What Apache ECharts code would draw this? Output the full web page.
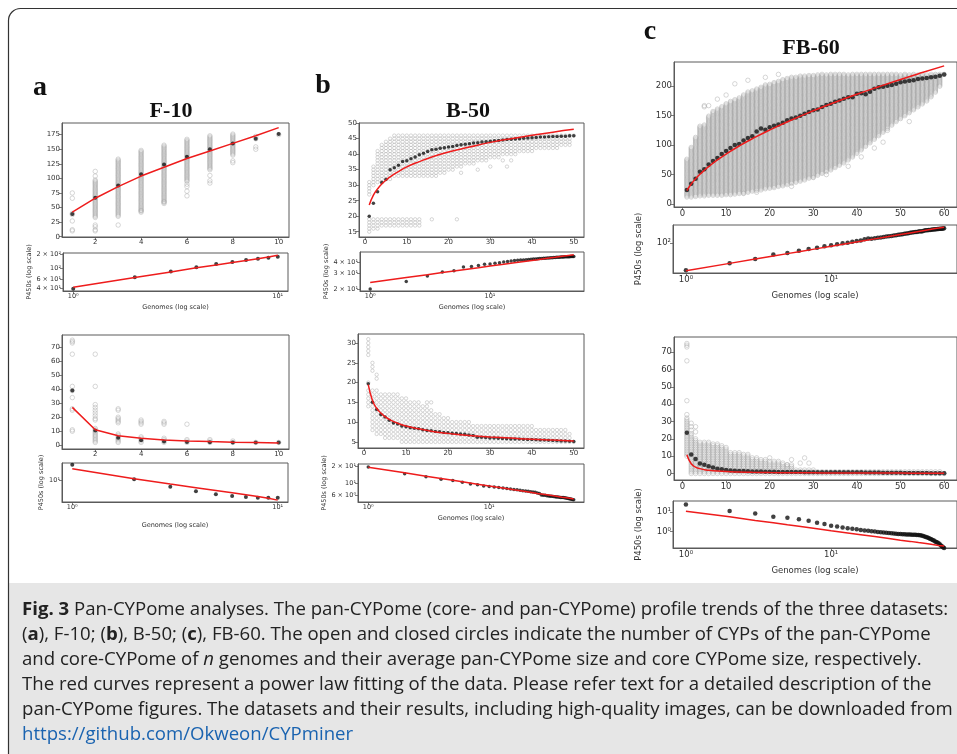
<!DOCTYPE html>
<html>
<head>
<meta charset="utf-8">
<script src="https://cdn.jsdelivr.net/npm/echarts@6.0.0/dist/echarts.min.js"></script>
<style>
  html, body { margin: 0; padding: 0; background: #fff; }
  #chart { width: 957px; height: 754px; }
</style>
</head>
<body>
<div id="chart"></div>
<script>
// ---------- data ----------
// F-10 (10 genomes)
const F10_N = [1, 2, 3, 4, 5, 6, 7, 8, 9, 10];
const F10_PAN_MEAN = [39, 67, 88, 107, 124, 137, 150, 160, 168, 176];
const F10_PAN_FIT = [42, 66, 86, 104, 119, 134, 147, 160, 173, 187];
const F10_CORE_MEAN = [39, 10.5, 5.3, 3.6, 2.7, 2.3, 2.1, 2.0, 2.0, 2.0];
const F10_CORE_FIT = [27, 11, 6.8, 4.9, 3.8, 3.1, 2.6, 2.2, 1.9, 1.6];
// open circles: [n, low, high] columns + single points [n, value]
const F10_PAN_COLS = [[2, 33, 98], [3, 35, 133], [4, 42, 148], [5, 57, 158], [6, 95, 167], [7, 115, 173], [8, 140, 177]];
const F10_PAN_PTS = [[1, 75], [1, 66], [1, 40], [1, 38], [1, 27], [1, 12], [1, 10], [2, 112], [2, 104], [2, 20], [2, 17],
  [2, 12], [2, 10], [3, 20], [4, 45], [5, 60], [6, 70], [6, 78], [6, 86], [6, 90], [7, 92], [7, 96], [7, 105],
  [8, 127], [8, 130], [9, 150], [9, 154], [9, 168], [9, 172], [10, 175]];
const F10_CORE_COLS = [[2, 2, 12], [3, 2, 8], [4, 2, 6], [5, 2, 5], [6, 2, 4], [7, 2, 4], [8, 2, 3]];
const F10_CORE_PTS = [[1, 75], [1, 74], [1, 73], [1, 65], [1, 42], [1, 39], [1, 34], [1, 26], [1, 25], [1, 11], [1, 10],
  [2, 65], [2, 42], [2, 29], [2, 27], [2, 25], [2, 23], [2, 21], [2, 19], [2, 18], [3, 26], [3, 25], [3, 20], [3, 19],
  [3, 18], [3, 17], [3, 16], [4, 18], [4, 17], [4, 16], [4, 15], [5, 17], [5, 16], [5, 15], [6, 15], [9, 2], [10, 2]];

// B-50 (50 genomes)
const B50_N = Array.from({ length: 50 }, (_, i) => i + 1);
const B50_PAN_MEAN = [20, 24.2, 27.9, 30.9, 31.8, 35.0, 35.6, 36.4, 37.6, 37.9, 38.5, 39.1, 39.8, 40.3, 40.9, 41.4, 41.6,
  41.9, 42.1, 42.3, 42.5, 42.8, 43.0, 43.2, 43.4, 43.6, 43.7, 43.9, 44.0, 44.2, 44.3, 44.4, 44.6, 44.7, 44.8, 44.9, 45.0,
  45.1, 45.2, 45.3, 45.4, 45.5, 45.5, 45.6, 45.7, 45.7, 45.8, 45.8, 45.9, 45.9];
const B50_CORE_MEAN = [19.7, 15.0, 13.2, 11.9, 11.3, 10.5, 9.8, 9.5, 9.0, 8.8, 8.6, 8.45, 8.3, 8.1, 7.9, 7.8, 7.65, 7.55,
  7.4, 7.3, 7.2, 7.1, 7.0, 6.9, 6.75, 6.6, 6.2, 6.15, 6.1, 6.0, 5.95, 5.9, 5.85, 5.8, 5.75, 5.7, 5.7, 5.65, 5.6, 5.6,
  5.55, 5.5, 5.45, 5.4, 5.35, 5.3, 5.25, 5.2, 5.15, 5.1];
const B50_FIT_N = [1, 2, 3, 4, 5, 6, 8, 10, 13, 16, 20, 25, 30, 35, 40, 45, 50];
const B50_PAN_FIT = [23.6, 26.8, 28.8, 30.4, 31.6, 32.7, 34.4, 35.9, 37.6, 39.1, 40.7, 42.3, 43.8, 45.0, 46.1, 47.1, 48.0];
const B50_CORE_FIT = [19.5, 15.5, 13.5, 12.3, 11.4, 10.7, 9.7, 9.0, 8.3, 7.7, 7.15, 6.6, 6.25, 5.95, 5.65, 5.45, 5.25];
const B50_PAN_COLS = [[1, 27, 31], [2, 30, 36], [3, 31, 41], [4, 31, 43], [5, 32, 44], [6, 32, 45], [7, 33, 46], [8, 33, 46],
  [9, 33, 46], [10, 33, 46], [11, 33, 46], [12, 33, 46], [13, 33, 46], [14, 33, 46], [15, 33, 46], [16, 33, 46],
  [17, 33, 46], [18, 34, 46], [19, 34, 46], [20, 35, 46], [21, 35, 46], [22, 36, 46], [23, 36, 46], [24, 37, 46],
  [25, 37, 46], [26, 37, 46], [27, 38, 46], [28, 38, 46], [29, 38, 46], [30, 39, 46], [31, 39, 46], [32, 39, 46],
  [33, 40, 46], [34, 40, 46], [35, 40, 46], [36, 40, 46], [37, 41, 46], [38, 41, 46], [39, 41, 46], [40, 41, 46],
  [41, 42, 46], [42, 42, 46], [43, 42, 46], [44, 42, 46], [45, 42, 46], [46, 42, 46], [47, 43, 46], [48, 43, 46],
  [49, 43, 46], [50, 46, 46],
  [1, 15, 19], [2, 16, 19], [3, 16, 19], [4, 17, 19], [5, 17, 19], [6, 17, 19], [7, 17, 19], [8, 17, 19], [9, 17, 19],
  [10, 17, 19], [11, 17, 19], [12, 17, 19], [13, 17, 19]];
const B50_PAN_PTS = [[16, 19], [22, 19], [23, 34], [27, 35], [30, 36], [33, 38], [34, 36], [35, 38]];
const B50_CORE_COLS = [[1, 14, 18], [1, 27, 31], [2, 8, 18], [3, 7, 18], [4, 7, 17], [5, 6, 17], [6, 6, 17], [7, 6, 17],
  [8, 6, 17], [9, 5, 16], [10, 5, 16], [11, 5, 15], [12, 5, 15], [13, 5, 15], [14, 5, 14], [15, 5, 14], [16, 5, 13],
  [17, 5, 12], [18, 5, 12], [19, 5, 11], [20, 5, 11], [21, 5, 10], [22, 5, 10], [23, 5, 10], [24, 5, 10], [25, 5, 10],
  [26, 5, 9], [27, 5, 9], [28, 5, 9], [29, 5, 9], [30, 5, 9], [31, 5, 9], [32, 5, 9], [33, 5, 9], [34, 5, 9], [35, 5, 9],
  [36, 5, 9], [37, 5, 9], [38, 5, 9], [39, 5, 9], [40, 5, 9], [41, 5, 8], [42, 5, 8], [43, 5, 8], [44, 5, 8], [45, 5, 8],
  [46, 5, 8], [47, 5, 8], [48, 5, 8], [49, 5, 7], [50, 5, 5]];
const B50_CORE_PTS = [[1, 20], [2, 23], [2, 24], [2, 25], [3, 21], [3, 22], [15, 15], [16, 15]];

// FB-60 (60 genomes)
const C60_N = Array.from({ length: 60 }, (_, i) => i + 1);
const C60_PAN_MEAN = [23.7, 34.5, 43, 55, 59, 67, 73, 78, 85, 90, 95, 100, 102, 108, 112, 115, 123, 128, 126, 130.5,
  133, 135, 138, 142, 145, 147, 150, 153, 156, 159, 160.5, 164.5, 168, 170, 173.5, 175.7, 178.5, 181, 181, 187,
  188, 186.4, 190.4, 195.5, 198, 199, 200.5, 202, 204, 206.8, 208, 209, 210, 212, 213, 214, 215, 216, 217.5, 219.8];
const C60_CORE_MEAN = [23.5, 11, 8.3, 5.7, 5.0, 4.2, 3.5, 2.8, 2.4, 2.0, 1.8, 1.6, 1.5, 1.4, 1.3, 1.2, 1.15, 1.1, 1.05, 1.0,
  0.95, 0.92, 0.9, 0.87, 0.85, 0.82, 0.8, 0.78, 0.76, 0.75, 0.74, 0.73, 0.72, 0.72, 0.71, 0.7, 0.7, 0.69, 0.68, 0.67,
  0.65, 0.63, 0.6, 0.57, 0.54, 0.5, 0.47, 0.44, 0.41, 0.38, 0.35, 0.32, 0.3, 0.28, 0.26, 0.23, 0.2, 0.18, 0.16, 0.15];
const C60_FIT_N = [1, 2, 3, 4, 5, 6, 8, 10, 13, 16, 20, 25, 30, 35, 40, 45, 50, 55, 60];
const C60_PAN_FIT = [23, 34.1, 42.9, 50.5, 57.3, 63.5, 74.8, 84.9, 98.5, 110.8, 125.7, 142.7, 158.2, 172.7, 186.3, 199.1,
  211.4, 223.1, 234.4];
const C60_CORE_FIT = [10.8, 5.6, 3.7, 2.8, 2.2, 1.86, 1.4, 1.1, 0.86, 0.7, 0.56, 0.45, 0.37, 0.32, 0.28, 0.25, 0.22, 0.2, 0.185];
const C60_PAN_LOW = [12, 12, 13, 14, 14, 15, 15, 15, 15, 16, 16, 17, 18, 19, 20, 22, 23, 24, 26, 27, 28, 30, 31, 33, 35,
  37, 39, 41, 44, 46, 49, 52, 55, 58, 62, 66, 70, 75, 80, 86, 92, 98, 104, 110, 116, 122, 128, 134, 140, 145, 150, 155,
  160, 165, 170, 175, 182, 190, 200, 220];
const C60_PAN_HIGH = [77, 97, 113, 133, 135, 150, 158, 161, 166, 170, 174, 178, 181, 186, 190, 193, 196, 199, 202, 204,
  207, 209, 211, 213, 215, 216, 217, 218, 218, 219, 220, 220, 220, 220, 220, 220, 220, 220, 220, 220, 220, 220, 220, 220,
  220, 220, 220, 220, 220, 220, 220, 220, 220, 220, 220, 220, 220, 220, 220, 220];
const C60_PAN_PTS = [[5, 165], [5, 167], [6, 167], [8, 178], [10, 185], [12, 204], [15, 210], [19, 215], [22, 220],
  [14, 18], [17, 20], [25, 30], [30, 45], [33, 50], [38, 64], [41, 80], [44, 95], [46, 105], [47, 125], [52, 140]];
const C60_CORE_LOW = [10, 0, 0, 0, 0, 0, 0, 0, 0, 0, 0, 0, 0, 0, 0, 0, 0, 0, 0, 0, 0, 0, 0, 0, 0, 0, 0, 0, 0, 0,
  0, 0, 0, 0, 0, 0, 0, 0, 0, 0, 0, 0, 0, 0, 0, 0, 0, 0, 0, 0, 0, 0, 0, 0, 0, 0, 0, 0, 0, 0];
const C60_CORE_HIGH = [32, 23, 20, 18, 18, 18, 17, 17, 16, 15, 12, 12, 12, 11, 11, 9, 9, 8, 8, 7, 6, 6, 5, 5, 5,
  2, 2, 2, 2, 2, 1, 1, 1, 1, 1, 1, 1, 1, 1, 1, 1, 1, 1, 1, 1, 1, 1, 1, 1, 1, 1, 1, 1, 1, 1, 1, 1, 1, 1, 0];
const C60_CORE_PTS = [[1, 75], [1, 74], [1, 73], [1, 65], [1, 42], [1, 34], [2, 25], [2, 27], [2, 29], [3, 24], [3, 27],
  [20, 9], [21, 7], [22, 7], [23, 6], [24, 5], [25, 8], [27, 6], [28, 9], [29, 6]];

// tick values and labels
const A_XTICKS = [2, 4, 6, 8, 10];
const A_PAN_YTICKS = [0, 25, 50, 75, 100, 125, 150, 175];
const A_CORE_YTICKS = [0, 10, 20, 30, 40, 50, 60, 70];
const B_XTICKS = [0, 10, 20, 30, 40, 50];
const B_PAN_YTICKS = [15, 20, 25, 30, 35, 40, 45, 50];
const B_CORE_YTICKS = [5, 10, 15, 20, 25, 30];
const C_XTICKS = [0, 10, 20, 30, 40, 50, 60];
const C_PAN_YTICKS = [0, 50, 100, 150, 200];
const C_CORE_YTICKS = [0, 10, 20, 30, 40, 50, 60, 70];
const LOG_XTICKS = [1, 10];
const LOG_XLABELS = ['10⁰', '10¹'];
const A_PANLOG_YTICKS = [40, 60, 100, 200];
const A_PANLOG_YLABELS = ['4 × 10¹', '6 × 10¹', '10²', '2 × 10²'];
const A_CORELOG_YTICKS = [10];
const A_CORELOG_YLABELS = ['10¹'];
const B_PANLOG_YTICKS = [20, 30, 40];
const B_PANLOG_YLABELS = ['2 × 10¹', '3 × 10¹', '4 × 10¹'];
const B_CORELOG_YTICKS = [6, 10, 20];
const B_CORELOG_YLABELS = ['6 × 10⁰', '10¹', '2 × 10¹'];
const C_PANLOG_YTICKS = [100];
const C_PANLOG_YLABELS = ['10²'];
const C_CORELOG_YTICKS = [1, 10];
const C_CORELOG_YLABELS = ['10⁰', '10¹'];

// ---------- helpers ----------
const zip = (xs, ys) => xs.map((x, i) => [x, ys[i]]);
function cloud(cols, pts, step) {
  const out = [];
  cols.forEach(([x, lo, hi]) => { for (let y = lo; y <= hi; y += step) out.push([x, y]); });
  return out.concat(pts);
}
const cols = (ns, lo, hi) => ns.map((n, i) => [n, lo[i], hi[i]]);

const SANS = 'DejaVu Sans';
const FRAME = '#5a5a5a';

const PANELS = [
  // a
  { box: [62, 123, 227, 114], xr: [0.55, 10.45], yr: [-0.5, 195], xt: A_XTICKS, yt: A_PAN_YTICKS, fs: 7,
    cloud: cloud(F10_PAN_COLS, F10_PAN_PTS, 2), cs: 4.5, mean: zip(F10_N, F10_PAN_MEAN), fit: zip(F10_N, F10_PAN_FIT), ds: 4 },
  { box: [63, 253, 225, 38], xr: [-0.05, 1.05], yr: [1.545, 2.32], log: true, fs: 6.5,
    xt: LOG_XTICKS, xl: LOG_XLABELS, yt: A_PANLOG_YTICKS, yl: A_PANLOG_YLABELS, xGap: 13, yGap: 30,
    mean: zip(F10_N, F10_PAN_MEAN), fit: zip(F10_N, F10_PAN_FIT), ds: 4 },
  { box: [62, 335, 227, 114], xr: [0.55, 10.45], yr: [-2.7, 78.7], xt: A_XTICKS, yt: A_CORE_YTICKS, fs: 7,
    cloud: cloud(F10_CORE_COLS, F10_CORE_PTS, 1), cs: 4.5, mean: zip(F10_N, F10_CORE_MEAN), fit: zip(F10_N, F10_CORE_FIT), ds: 4 },
  { box: [62, 463, 226, 39], xr: [-0.05, 1.05], yr: [0.13, 1.66], log: true, fs: 6.5,
    xt: LOG_XTICKS, xl: LOG_XLABELS, yt: A_CORELOG_YTICKS, yl: A_CORELOG_YLABELS, xGap: 20, yGap: 17,
    mean: zip(F10_N, F10_CORE_MEAN), fit: zip(F10_N, F10_CORE_FIT), ds: 4 },
  // b
  { box: [359, 123, 225, 114], xr: [-1.45, 52.45], yr: [13.3, 50.05], xt: B_XTICKS, yt: B_PAN_YTICKS, fs: 7,
    cloud: cloud(B50_PAN_COLS, B50_PAN_PTS, 1), cs: 3.4, mean: zip(B50_N, B50_PAN_MEAN), fit: zip(B50_FIT_N, B50_PAN_FIT), ds: 3.5, smooth: true },
  { box: [360, 252, 224, 39], xr: [-0.085, 1.784], yr: [1.278, 1.712], log: true, fs: 6.5,
    xt: LOG_XTICKS, xl: LOG_XLABELS, yt: B_PANLOG_YTICKS, yl: B_PANLOG_YLABELS, xGap: 13, yGap: 28,
    mean: zip(B50_N, B50_PAN_MEAN), fit: zip(B50_FIT_N, B50_PAN_FIT), ds: 3.5 },
  { box: [358, 334, 226, 114], xr: [-1.45, 52.45], yr: [3.45, 32.3], xt: B_XTICKS, yt: B_CORE_YTICKS, fs: 7,
    cloud: cloud(B50_CORE_COLS, B50_CORE_PTS, 1), cs: 3.4, mean: zip(B50_N, B50_CORE_MEAN), fit: zip(B50_FIT_N, B50_CORE_FIT), ds: 3.5, smooth: true },
  { box: [358, 464, 226, 38], xr: [-0.085, 1.784], yr: [0.665, 1.35], log: true, fs: 6.5,
    xt: LOG_XTICKS, xl: LOG_XLABELS, yt: B_CORELOG_YTICKS, yl: B_CORELOG_YLABELS, xGap: 13, yGap: 28,
    mean: zip(B50_N, B50_CORE_MEAN), fit: zip(B50_FIT_N, B50_CORE_FIT), ds: 3.5 },
  // c
  { box: [674, 62, 283, 145], xr: [-1.95, 62.95], yr: [-5, 241], xt: C_XTICKS, yt: C_PAN_YTICKS, fs: 8.5,
    cloud: cloud(cols(C60_N, C60_PAN_LOW, C60_PAN_HIGH), C60_PAN_PTS, 2), cs: 4.5,
    mean: zip(C60_N, C60_PAN_MEAN), fit: zip(C60_FIT_N, C60_PAN_FIT), ds: 4.5, smooth: true },
  { box: [673, 225, 284, 48], xr: [-0.089, 1.867], yr: [1.31, 2.42], log: true, fs: 8.5,
    xt: LOG_XTICKS, xl: LOG_XLABELS, yt: C_PANLOG_YTICKS, yl: C_PANLOG_YLABELS, xGap: 18, yGap: 30,
    mean: zip(C60_N, C60_PAN_MEAN), fit: zip(C60_FIT_N, C60_PAN_FIT), ds: 4.5 },
  { box: [674, 337, 283, 143], xr: [-1.95, 62.95], yr: [-3.75, 78.75], xt: C_XTICKS, yt: C_CORE_YTICKS, fs: 8.5,
    cloud: cloud(cols(C60_N, C60_CORE_LOW, C60_CORE_HIGH), C60_CORE_PTS, 1), cs: 4.5,
    mean: zip(C60_N, C60_CORE_MEAN), fit: zip(C60_FIT_N, C60_CORE_FIT), ds: 4.5, smooth: true },
  { box: [673, 501, 284, 47], xr: [-0.089, 1.867], yr: [-0.83, 1.55], log: true, fs: 8.5,
    xt: LOG_XTICKS, xl: LOG_XLABELS, yt: C_CORELOG_YTICKS, yl: C_CORELOG_YLABELS, xGap: 18, yGap: 30,
    mean: zip(C60_N, C60_CORE_MEAN), fit: zip(C60_FIT_N, C60_CORE_FIT), ds: 4.5 }
];

// ---------- build option ----------
const grids = [], xAxes = [], yAxes = [], series = [];
const toLog = pts => pts.filter(p => p[0] > 0 && p[1] > 0).map(p => [Math.log10(p[0]), Math.log10(p[1])]);

function makeAxis(i, range, ticks, labels, fs, log) {
  const vals = log ? ticks.map(Math.log10) : ticks;
  const fmt = labels
    ? v => { const k = vals.findIndex(t => Math.abs(t - v) < 1e-6); return k < 0 ? '' : labels[k]; }
    : v => String(Math.round(v * 100) / 100);
  return {
    gridIndex: i, type: 'value', min: range[0], max: range[1],
    axisLine: { show: true, onZero: false, lineStyle: { color: FRAME, width: 1 } },
    axisTick: { show: true, length: 3, customValues: vals, lineStyle: { color: FRAME, width: 0.8 } },
    axisLabel: { customValues: vals, formatter: fmt, fontSize: fs, fontFamily: SANS, color: '#333', margin: 2 },
    splitLine: { show: false }
  };
}

PANELS.forEach((p, i) => {
  grids.push({ left: p.box[0], top: p.box[1], width: p.box[2], height: p.box[3],
    show: true, borderColor: FRAME, borderWidth: 1, backgroundColor: 'transparent' });
  const xa = makeAxis(i, p.xr, p.xt, p.xl, p.fs, p.log);
  const ya = makeAxis(i, p.yr, p.yt, p.yl, p.fs, p.log);
  if (p.log) {
    Object.assign(xa, { name: 'Genomes (log scale)', nameLocation: 'middle', nameGap: p.xGap,
      nameTextStyle: { fontSize: p.fs, fontFamily: SANS, color: '#333' } });
    Object.assign(ya, { name: 'P450s (log scale)', nameLocation: 'middle', nameGap: p.yGap, nameRotate: 90,
      nameTextStyle: { fontSize: p.fs, fontFamily: SANS, color: '#333' } });
  }
  xAxes.push(xa);
  yAxes.push(ya);
  const tf = p.log ? toLog : (d => d);
  if (p.cloud) {
    series.push({ type: 'scatter', xAxisIndex: i, yAxisIndex: i, data: p.cloud, symbol: 'circle', symbolSize: p.cs,
      itemStyle: { color: 'rgba(0,0,0,0)', borderColor: 'rgba(165,165,165,0.75)', borderWidth: 0.75 }, silent: true, progressive: 0, z: 1 });
  }
  series.push({ type: 'scatter', xAxisIndex: i, yAxisIndex: i, data: tf(p.mean), symbol: 'circle', symbolSize: p.ds,
    itemStyle: { color: '#111' }, silent: true, z: 2 });
  series.push({ type: 'line', xAxisIndex: i, yAxisIndex: i, data: tf(p.fit), showSymbol: false, smooth: p.log ? false : !!p.smooth,
    lineStyle: { color: '#ee1c1c', width: 1.5 }, silent: true, z: 3 });
});

const CAP = 18.6;
const CAP_FONT = 'Open Sans';
const rich = {
  b: { fontWeight: 'bold', fontSize: CAP, fontFamily: CAP_FONT, fill: '#222' },
  i: { fontStyle: 'italic', fontSize: CAP, fontFamily: CAP_FONT, fill: '#222' },
  l: { fontSize: CAP, fontFamily: CAP_FONT, fill: '#1a63b0' }
};
const CAPTION = [
  '{b|Fig. 3} Pan-CYPome analyses. The pan-CYPome (core- and pan-CYPome) profile trends of the three datasets:',
  '({b|a}), F-10; ({b|b}), B-50; ({b|c}), FB-60. The open and closed circles indicate the number of CYPs of the pan-CYPome',
  'and core-CYPome of {i|n} genomes and their average pan-CYPome size and core CYPome size, respectively.',
  'The red curves represent a power law fitting of the data. Please refer text for a detailed description of the',
  'pan-CYPome figures. The datasets and their results, including high-quality images, can be downloaded from',
  '{l|https://github.com/Okweon/CYPminer}'
];

const graphic = [
  { type: 'rect', shape: { x: 9, y: 583, width: 948, height: 171 }, style: { fill: '#e6e6e6' }, z: -10, silent: true },
  { type: 'rect', shape: { x: 8.5, y: 8.5, width: 1000, height: 800, r: 12 }, style: { fill: 'none', stroke: '#333', lineWidth: 1.2 }, z: -5, silent: true },
  { type: 'text', x: 40, y: 88, style: { text: 'a', font: 'bold 28px "Liberation Serif"', fill: '#111', align: 'center', verticalAlign: 'middle' } },
  { type: 'text', x: 323, y: 86, style: { text: 'b', font: 'bold 28px "Liberation Serif"', fill: '#111', align: 'center', verticalAlign: 'middle' } },
  { type: 'text', x: 650, y: 32, style: { text: 'c', font: 'bold 28px "Liberation Serif"', fill: '#111', align: 'center', verticalAlign: 'middle' } },
  { type: 'text', x: 171, y: 111, style: { text: 'F-10', font: 'bold 22px "Liberation Serif"', fill: '#111', align: 'center', verticalAlign: 'middle' } },
  { type: 'text', x: 468, y: 111, style: { text: 'B-50', font: 'bold 22px "Liberation Serif"', fill: '#111', align: 'center', verticalAlign: 'middle' } },
  { type: 'text', x: 811, y: 48, style: { text: 'FB-60', font: 'bold 22px "Liberation Serif"', fill: '#111', align: 'center', verticalAlign: 'middle' } }
].concat(CAPTION.map((t, k) => ({
  type: 'text', x: 22, y: 610 + k * 25,
  style: { text: t, rich, fontSize: CAP, fontFamily: CAP_FONT, fill: '#222', align: 'left', verticalAlign: 'middle' }
})));

const chart = echarts.init(document.getElementById('chart'), null, { renderer: 'canvas' });
chart.setOption({
  animation: false,
  backgroundColor: '#fff',
  textStyle: { fontFamily: SANS },
  grid: grids, xAxis: xAxes, yAxis: yAxes, series, graphic
});
</script>
</body>
</html>
